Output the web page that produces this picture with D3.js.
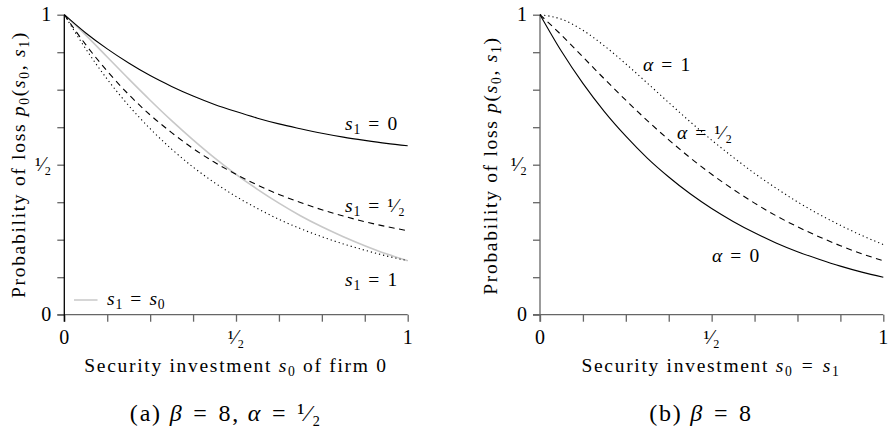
<!DOCTYPE html>
<html>
<head>
<meta charset="utf-8">
<title>Probability of loss</title>
<style>
  body { margin: 0; background: #fff; }
  svg { display: block; }
</style>
</head>
<body>
<div id="chart"></div>
<script src="https://cdn.jsdelivr.net/npm/d3@7"></script>
<script>
// investment levels s0 (steps of 1/16)
var sVals = [0, 0.0625, 0.125, 0.1875, 0.25, 0.3125, 0.375, 0.4375, 0.5,
             0.5625, 0.625, 0.6875, 0.75, 0.8125, 0.875, 0.9375, 1];

// panel (a): beta = 8, alpha = 1/2
var lossS1Zero = [1, 0.939, 0.886, 0.839, 0.797, 0.761, 0.729, 0.701, 0.677,
                  0.655, 0.636, 0.620, 0.605, 0.592, 0.581, 0.571, 0.563];
var lossS1Half = [1, 0.900, 0.812, 0.734, 0.666, 0.607, 0.554, 0.508, 0.468,
                  0.432, 0.401, 0.374, 0.350, 0.329, 0.310, 0.294, 0.280];
var lossS1One  = [1, 0.886, 0.785, 0.697, 0.620, 0.552, 0.492, 0.440, 0.394,
                  0.354, 0.318, 0.287, 0.260, 0.236, 0.215, 0.196, 0.180];
var lossS1Same = [1, 0.932, 0.859, 0.786, 0.715, 0.647, 0.583, 0.523, 0.468,
                  0.418, 0.372, 0.330, 0.293, 0.260, 0.230, 0.203, 0.180];

// panel (b): beta = 8, s0 = s1
var lossAlpha0    = [1, 0.878, 0.771, 0.677, 0.595, 0.522, 0.459, 0.403, 0.354,
                     0.311, 0.273, 0.239, 0.210, 0.185, 0.162, 0.142, 0.125];
var lossAlphaHalf = [1, 0.932, 0.859, 0.786, 0.715, 0.647, 0.583, 0.523, 0.468,
                     0.418, 0.372, 0.330, 0.293, 0.260, 0.230, 0.203, 0.180];
var lossAlpha1    = [1, 0.985, 0.948, 0.896, 0.836, 0.772, 0.707, 0.643, 0.582,
                     0.525, 0.471, 0.422, 0.376, 0.335, 0.298, 0.264, 0.234];

var tickVals = d3.range(0, 1.0001, 0.125);
var labelVals = [0, 0.5, 1];

var FONT = "'Liberation Serif', monospace";
var FS = 19.5;
var EQ = "\u2004=\u2004";   // a bit more room round "=", like TeX

var svg = d3.select("#chart").append("svg")
    .attr("width", 888).attr("height", 432)
    .attr("font-family", FONT);

var y = d3.scaleLinear().domain([0, 1]).range([314.7, 14.7]);

function fmt(v) { return v === 0.5 ? "\u00B9\u2044\u2082" : String(v); }

var line = function(x, vals) {
  return d3.line()
    .x(function(d, i) { return x(sVals[i]); })
    .y(function(d) { return y(d); })
    .curve(d3.curveMonotoneX)(vals);
};

function panel(x0, x1, yAxisColor, clipId) {
  var x = d3.scaleLinear().domain([0, 1]).range([x0, x1]);
  var g = svg.append("g");

  g.append("g").attr("transform", "translate(0,314.7)")
    .call(d3.axisBottom(x).tickValues(tickVals).tickSize(7).tickFormat(""))
    .call(function(a) { a.selectAll("line").attr("stroke", "#666").attr("stroke-width", 1.3); a.select(".domain").remove(); });
  g.append("g").attr("transform", "translate(" + x0 + ",0)")
    .call(d3.axisLeft(y).tickValues(tickVals).tickSize(7).tickFormat(""))
    .call(function(a) { a.selectAll("line").attr("stroke", "#666").attr("stroke-width", 1.3); a.select(".domain").remove(); });

  g.append("line").attr("x1", x0 - 7).attr("x2", x1).attr("y1", 314.7).attr("y2", 314.7)
    .attr("stroke", "#666").attr("stroke-width", 1.3);
  g.append("line").attr("x1", x0).attr("x2", x0).attr("y1", 14.7).attr("y2", 321.7)
    .attr("stroke", yAxisColor).attr("stroke-width", 1.3);

  // tick labels
  g.selectAll(".xl").data(labelVals).enter().append("text")
    .attr("font-family", FONT)
    .attr("x", function(d) { return x(d); }).attr("y", 343.5)
    .attr("text-anchor", "middle").attr("font-size", 20)
    .text(fmt);
  g.selectAll(".yl").data(labelVals).enter().append("text")
    .attr("font-family", FONT)
    .attr("x", x0 - 13).attr("y", function(d) { return y(d) + 6.5; })
    .attr("text-anchor", "end").attr("font-size", 20)
    .text(fmt);

  svg.append("clipPath").attr("id", clipId).append("rect")
    .attr("x", x0 - 60).attr("y", 0).attr("width", x1 - x0 + 62).attr("height", 432);
  return x;
}

function mathLabel(g, x, yb, parts, anchor, spacing, size) {
  var fs = size || FS;
  var t = g.append("text").attr("x", x).attr("y", yb).attr("font-size", fs)
    .attr("font-family", FONT).attr("letter-spacing", spacing == null ? 0.8 : spacing)
    .attr("text-anchor", anchor || "start");
  parts.forEach(function(p) {
    var ts = t.append("tspan").text(p[0]);
    if (p[1] === "i") ts.attr("font-style", "italic");
    if (p[1] === "sub") ts.attr("font-size", fs * 0.7).attr("dy", fs * 0.2);
    if (p[1] === "up") ts.attr("dy", -fs * 0.2);
  });
  return t;
}

// ---------- panel (a)
var xa = panel(64.3, 407.7, "#000", "clipA");
var ga = svg.append("g").attr("clip-path", "url(#clipA)");

ga.append("path").attr("d", line(xa, lossS1Same)).attr("fill", "none")
  .attr("stroke", "#c8c8c8").attr("stroke-width", 1.6);
ga.append("path").attr("d", line(xa, lossS1Zero)).attr("fill", "none")
  .attr("stroke", "#000").attr("stroke-width", 1.1);
ga.append("path").attr("d", line(xa, lossS1Half)).attr("fill", "none")
  .attr("stroke", "#000").attr("stroke-width", 1.1).attr("stroke-dasharray", "6,4.5");
ga.append("path").attr("d", line(xa, lossS1One)).attr("fill", "none")
  .attr("stroke", "#000").attr("stroke-width", 1.1).attr("stroke-dasharray", "1.2,3");

mathLabel(ga, 345, 130, [["s", "i"], ["1", "sub"], [EQ + "0", "up"]]);
mathLabel(ga, 345, 212, [["s", "i"], ["1", "sub"], [EQ + "\u00B9\u2044\u2082", "up"]]);
mathLabel(ga, 345, 286, [["s", "i"], ["1", "sub"], [EQ + "1", "up"]]);

// legend
ga.append("line").attr("x1", 74).attr("x2", 97.5).attr("y1", 300).attr("y2", 300)
  .attr("stroke", "#c8c8c8").attr("stroke-width", 1.6);
mathLabel(ga, 107, 305, [["s", "i"], ["1", "sub"], [EQ, "up"], ["s", "i"], ["0", "sub"]]);

// axis titles and caption
mathLabel(svg, 236, 372, [["Security investment "], ["s", "i"], ["0", "sub"], [" of firm 0", "up"]], "middle", 1.7);
mathLabel(svg, 0, 0, [["Probability of loss "], ["p", "i"], ["0", "sub"], ["(", "up"], ["s", "i"], ["0", "sub"], [", ", "up"], ["s", "i"], ["1", "sub"], [")", "up"]], "middle", 1.7)
  .attr("transform", "translate(25,164.5) rotate(-90)");
mathLabel(svg, 226, 421, [["(a) "], ["\u03B2", "i"], [EQ + "8, "], ["\u03B1", "i"], [EQ + "\u00B9\u2044\u2082"]], "middle", 1.8, 24);

// ---------- panel (b)
var xb = panel(540, 883.3, "#666", "clipB");
var gb = svg.append("g");

gb.append("path").attr("d", line(xb, lossAlpha0)).attr("fill", "none")
  .attr("stroke", "#000").attr("stroke-width", 1.1);
gb.append("path").attr("d", line(xb, lossAlphaHalf)).attr("fill", "none")
  .attr("stroke", "#000").attr("stroke-width", 1.1).attr("stroke-dasharray", "6,4.5");
gb.append("path").attr("d", line(xb, lossAlpha1)).attr("fill", "none")
  .attr("stroke", "#000").attr("stroke-width", 1.1).attr("stroke-dasharray", "1.2,3");

mathLabel(gb, 643, 71, [["\u03B1", "i"], [EQ + "1"]]);
mathLabel(gb, 677, 139, [["\u03B1", "i"], [EQ + "\u00B9\u2044\u2082"]]);
mathLabel(gb, 712, 262, [["\u03B1", "i"], [EQ + "0"]]);

mathLabel(svg, 711, 372, [["Security investment "], ["s", "i"], ["0", "sub"], [EQ, "up"], ["s", "i"], ["1", "sub"]], "middle", 1.7);
mathLabel(svg, 0, 0, [["Probability of loss "], ["p", "i"], ["(", ""], ["s", "i"], ["0", "sub"], [", ", "up"], ["s", "i"], ["1", "sub"], [")", "up"]], "middle", 1.7)
  .attr("transform", "translate(497,165.5) rotate(-90)");
mathLabel(svg, 701, 421, [["(b) "], ["\u03B2", "i"], [EQ + "8"]], "middle", 1.8, 24);
</script>
</body>
</html>
